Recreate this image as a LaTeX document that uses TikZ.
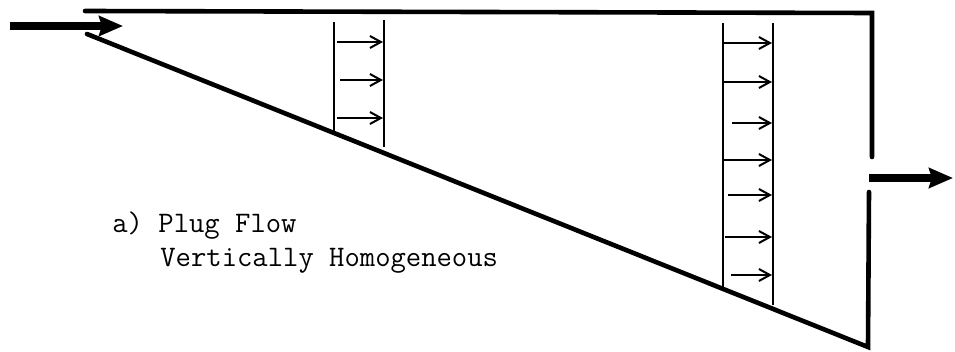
\documentclass[tikz,border=0pt]{standalone}
\usetikzlibrary{arrows.meta, positioning}

\begin{document}
\begin{tikzpicture}[
  x=0.5pt, y=-0.5pt,
  wall/.style={line width=2.3pt, line cap=round, line join=miter},
  gauge/.style={line width=1.3pt},
  vel/.style={-{Straight Barb[length=5.5pt, width=6pt]}, line width=1pt},
  flow/.style={-{Stealth[length=12pt, width=10pt, inset=1.5pt]}, line width=4pt},
  lbl/.style={font=\fontsize{14.9}{17}\selectfont\ttfamily, inner sep=0pt, anchor=base west}
]
\useasboundingbox (0,0) rectangle (955,352);

% channel outline
\coordinate (topL) at (85,11);
\coordinate (topR) at (872,13);
\coordinate (gapT) at (872,157);
\coordinate (gapB) at (869,192);
\coordinate (botR) at (868,347);
\coordinate (botL) at (87,34);
\draw[wall] (topL) -- (topR) -- (gapT);
\draw[wall] (gapB) -- (botR) -- (botL);

% inflow / outflow
\coordinate (inS) at (10,26);
\coordinate (inE) at (123,26);
\coordinate (outS) at (869,178);
\coordinate (outE) at (953,178);
\draw[flow] (inS) -- (inE);
\draw[flow] (outS) -- (outE);

% velocity profile, upstream
\draw[gauge] (334,22) coordinate (upL) -- (334,132);
\draw[gauge] (384,20) coordinate (upR) -- (384,147);
\foreach \y/\s in {42/337, 80/340, 118/337}
  \draw[vel] (\s,\y) -- (383,\y);

% velocity profile, downstream
\draw[gauge] (723,23) coordinate (dnL) -- (723,288);
\draw[gauge] (773,23) coordinate (dnR) -- (773,305);
\foreach \y/\s in {43/724, 82/724, 123/732, 160/724, 195/728, 237/725, 275/731}
  \draw[vel] (\s,\y) -- (772,\y);

\node[lbl] (caseA) at (112,233) {a) Plug Flow};
\node[lbl] (caseB) at (160,267) {Vertically Homogeneous};
\end{tikzpicture}
\end{document}
